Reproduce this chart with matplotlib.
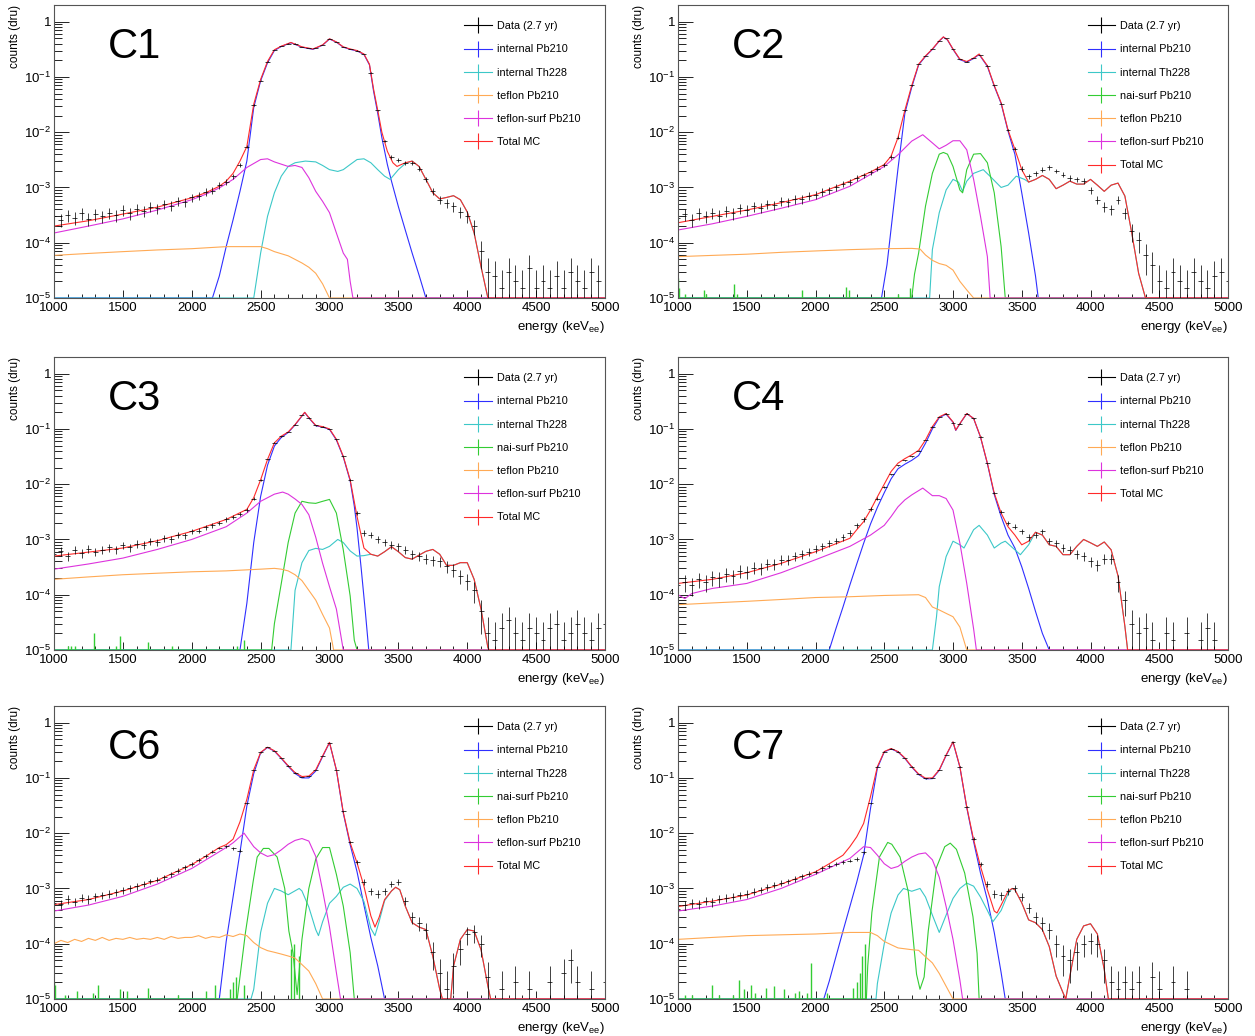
import numpy as np
import matplotlib
matplotlib.use("Agg")
import matplotlib.pyplot as plt
from matplotlib.lines import Line2D
from matplotlib.ticker import MultipleLocator, LogLocator, FuncFormatter, NullFormatter

plt.rcParams['font.family'] = ['Liberation Sans', 'DejaVu Sans']
plt.rcParams['mathtext.fontset'] = 'custom'
plt.rcParams['mathtext.rm'] = 'Liberation Sans'
plt.rcParams['mathtext.it'] = 'Liberation Sans:italic'

# ---- data (dru), data bins every 50 keV from 1000 keV ----
E0, DE = 1000, 50

c1_data = [3.0e-4, 2.6e-4, 3.2e-4, 2.8e-4, 3.4e-4, 2.7e-4, 3.3e-4, 3.0e-4, 3.5e-4, 3.2e-4,
           3.9e-4, 3.4e-4, 4.1e-4, 3.7e-4, 4.5e-4, 4.2e-4, 5.0e-4, 4.7e-4, 5.6e-4, 5.4e-4,
           6.6e-4, 7.0e-4, 8.4e-4, 8.8e-4, 1.1e-3, 1.25e-3, 1.6e-3, 2.6e-3, 5.5e-3, 3.1e-2,
           8.6e-2, 0.19, 0.31, 0.36, 0.40, 0.40, 0.35, 0.33, 0.33, 0.38,
           0.48, 0.43, 0.35, 0.32, 0.30, 0.26, 0.12, 0.025, 7.0e-3, 3.6e-3,
           3.1e-3, 2.8e-3, 2.8e-3, 2.2e-3, 1.4e-3, 8.5e-4, 6.0e-4, 5.2e-4, 4.6e-4, 3.6e-4,
           3.0e-4, 2.0e-4, 7.0e-5, 3.0e-5, 2.5e-5, 1.5e-5, 3.0e-5, 2.0e-5, 1.5e-5, 3.5e-5,
           1.5e-5, 2.0e-5, 1.5e-5, 2.5e-5, 1.5e-5, 3.0e-5, 2.0e-5, 1.5e-5, 3.0e-5, 2.0e-5,
           0]
c2_data = [2.8e-4, 3.3e-4, 2.6e-4, 3.4e-4, 3.0e-4, 3.5e-4, 3.1e-4, 3.8e-4, 3.4e-4, 4.2e-4,
           3.9e-4, 4.6e-4, 4.3e-4, 5.0e-4, 4.8e-4, 5.6e-4, 5.4e-4, 6.2e-4, 6.2e-4, 7.0e-4,
           7.4e-4, 8.4e-4, 9.0e-4, 1.02e-3, 1.15e-3, 1.25e-3, 1.5e-3, 1.65e-3, 1.9e-3, 2.2e-3,
           2.6e-3, 3.6e-3, 8.0e-3, 2.5e-2, 7.0e-2, 0.17, 0.24, 0.32, 0.45, 0.50,
           0.32, 0.21, 0.19, 0.22, 0.25, 0.16, 0.07, 0.033, 0.011, 5.0e-3,
           2.2e-3, 1.6e-3, 1.8e-3, 2.1e-3, 2.3e-3, 2.0e-3, 1.7e-3, 1.5e-3, 1.4e-3, 1.3e-3,
           9.0e-4, 6.0e-4, 4.5e-4, 4.0e-4, 6.0e-4, 3.5e-4, 1.6e-4, 1.1e-4, 6.0e-5, 4.0e-5,
           2.0e-5, 1.5e-5, 3.0e-5, 2.0e-5, 1.5e-5, 3.0e-5, 2.0e-5, 1.5e-5, 2.5e-5, 3.0e-5,
           2.0e-5]
c3_data = [5.5e-4, 6.2e-4, 5.0e-4, 6.5e-4, 5.6e-4, 6.8e-4, 6.0e-4, 6.5e-4, 7.2e-4, 6.6e-4,
           7.8e-4, 7.2e-4, 8.4e-4, 8.0e-4, 9.2e-4, 9.0e-4, 1.05e-3, 1.0e-3, 1.2e-3, 1.18e-3,
           1.4e-3, 1.45e-3, 1.65e-3, 1.8e-3, 2.0e-3, 2.3e-3, 2.6e-3, 2.9e-3, 3.4e-3, 5.5e-3,
           1.2e-2, 2.8e-2, 5.6e-2, 7.4e-2, 8.8e-2, 0.12, 0.18, 0.16, 0.116, 0.11,
           0.10, 0.065, 0.032, 0.012, 3.0e-3, 1.3e-3, 1.2e-3, 1.0e-3, 9.0e-4, 8.0e-4,
           7.5e-4, 6.5e-4, 5.5e-4, 5.0e-4, 4.5e-4, 4.2e-4, 4.0e-4, 3.3e-4, 2.8e-4, 2.2e-4,
           1.8e-4, 1.2e-4, 5.0e-5, 2.0e-5, 1.5e-5, 2.5e-5, 3.5e-5, 2.0e-5, 1.5e-5, 2.5e-5,
           2.0e-5, 1.5e-5, 2.5e-5, 3.0e-5, 1.5e-5, 2.0e-5, 3.0e-5, 2.0e-5, 1.5e-5, 2.5e-5,
           3.0e-5]
c4_data = [1.5e-4, 1.7e-4, 1.5e-4, 1.9e-4, 1.7e-4, 2.1e-4, 2.0e-4, 2.4e-4, 2.2e-4, 2.7e-4,
           2.6e-4, 3.1e-4, 3.0e-4, 3.6e-4, 3.6e-4, 4.3e-4, 4.3e-4, 5.0e-4, 5.4e-4, 6.0e-4,
           6.8e-4, 7.5e-4, 8.6e-4, 9.5e-4, 1.1e-3, 1.3e-3, 1.8e-3, 2.3e-3, 3.6e-3, 5.5e-3,
           9.0e-3, 1.5e-2, 2.2e-2, 2.7e-2, 3.2e-2, 4.0e-2, 6.3e-2, 0.11, 0.165, 0.19,
           0.13, 0.125, 0.19, 0.155, 0.072, 0.024, 7.0e-3, 3.2e-3, 2.0e-3, 1.7e-3,
           1.4e-3, 1.1e-3, 1.2e-3, 1.4e-3, 9.5e-4, 8.5e-4, 7.0e-4, 6.5e-4, 5.5e-4, 5.0e-4,
           4.0e-4, 3.5e-4, 4.5e-4, 4.5e-4, 1.7e-4, 8.0e-5, 3.0e-5, 2.0e-5, 2.5e-5, 1.5e-5,
           0, 2.0e-5, 1.5e-5, 0, 2.0e-5, 0, 1.5e-5, 2.5e-5, 1.5e-5, 0,
           0]
c6_data = [5.5e-4, 5.2e-4, 6.4e-4, 5.8e-4, 6.8e-4, 6.4e-4, 7.2e-4, 7.6e-4, 8.0e-4, 8.6e-4,
           9.4e-4, 1.0e-3, 1.1e-3, 1.2e-3, 1.35e-3, 1.45e-3, 1.6e-3, 1.8e-3, 2.1e-3, 2.4e-3,
           2.8e-3, 3.3e-3, 3.9e-3, 4.6e-3, 5.4e-3, 5.8e-3, 5.3e-3, 4.8e-3, 3.5e-2, 0.14,
           0.29, 0.36, 0.31, 0.23, 0.166, 0.125, 0.104, 0.108, 0.14, 0.25,
           0.43, 0.14, 0.025, 7.0e-3, 3.0e-3, 1.3e-3, 9.0e-4, 8.0e-4, 9.0e-4, 1.2e-3,
           1.3e-3, 6.0e-4, 3.0e-4, 2.4e-4, 1.8e-4, 7.0e-5, 3.0e-5, 1.5e-5, 4.0e-5, 8.0e-5,
           1.5e-4, 1.6e-4, 1.0e-4, 2.5e-5, 0, 1.5e-5, 0, 2.0e-5, 0, 1.5e-5,
           0, 0, 2.0e-5, 0, 3.0e-5, 5.0e-5, 2.0e-5, 0, 1.5e-5, 0,
           2.0e-5]
c7_data = [4.2e-4, 5.0e-4, 5.5e-4, 5.2e-4, 6.0e-4, 5.6e-4, 6.5e-4, 6.8e-4, 7.0e-4, 7.6e-4,
           8.0e-4, 8.8e-4, 9.5e-4, 1.05e-3, 1.15e-3, 1.25e-3, 1.35e-3, 1.5e-3, 1.65e-3, 1.85e-3,
           2.0e-3, 2.3e-3, 2.6e-3, 2.8e-3, 3.0e-3, 3.2e-3, 3.4e-3, 4.5e-3, 3.5e-2, 0.16,
           0.30, 0.34, 0.30, 0.23, 0.16, 0.118, 0.098, 0.10, 0.14, 0.26,
           0.44, 0.16, 0.03, 8.0e-3, 2.8e-3, 1.2e-3, 8.0e-4, 7.5e-4, 9.0e-4, 1.0e-3,
           7.0e-4, 4.5e-4, 3.0e-4, 2.4e-4, 1.8e-4, 1.0e-4, 6.0e-5, 5.0e-5, 7.0e-5, 1.0e-4,
           1.1e-4, 1.0e-4, 5.0e-5, 2.0e-5, 1.5e-5, 2.0e-5, 1.5e-5, 2.0e-5, 0, 2.5e-5,
           1.5e-5, 0, 2.0e-5, 0, 1.5e-5, 0, 0, 0, 0, 0,
           0]

# ---- MC curves: (energy keV, dru) ----
c1_red = [(1000, 2.0e-4), (1250, 2.5e-4), (1500, 3.3e-4), (1750, 4.4e-4), (2000, 6.5e-4), (2100, 8.0e-4),
          (2200, 1.05e-3), (2250, 1.3e-3), (2300, 1.8e-3), (2350, 3.0e-3), (2400, 5.5e-3), (2450, 3.2e-2),
          (2500, 9.0e-2), (2550, 0.19), (2600, 0.31), (2650, 0.36), (2720, 0.42), (2800, 0.35), (2880, 0.32),
          (2950, 0.38), (3000, 0.49), (3050, 0.43), (3100, 0.35), (3150, 0.32), (3200, 0.30), (3250, 0.26),
          (3290, 0.17), (3320, 0.06), (3350, 0.025), (3380, 1.0e-2), (3420, 4.5e-3), (3460, 2.8e-3),
          (3490, 2.4e-3), (3550, 2.8e-3), (3600, 3.0e-3), (3650, 2.4e-3), (3700, 1.4e-3), (3750, 8.0e-4),
          (3800, 6.2e-4), (3850, 6.6e-4), (3900, 7.1e-4), (3950, 6.0e-4), (4000, 3.6e-4), (4050, 1.5e-4),
          (4100, 3.7e-5), (4150, 1.0e-5)]
c1_blue = [(2150, 1.0e-5), (2200, 2.5e-5), (2250, 8.5e-5), (2300, 2.6e-4), (2350, 8.5e-4), (2400, 3.0e-3),
           (2450, 2.8e-2), (2500, 8.5e-2), (2550, 0.18), (2600, 0.30), (2650, 0.355), (2720, 0.415),
           (2800, 0.345), (2880, 0.315), (2950, 0.375), (3000, 0.485), (3050, 0.425), (3100, 0.345),
           (3150, 0.315), (3200, 0.295), (3250, 0.255), (3290, 0.165), (3320, 0.055), (3350, 0.022),
           (3380, 8.0e-3), (3420, 2.6e-3), (3450, 1.3e-3), (3500, 4.5e-4), (3550, 1.7e-4), (3600, 6.5e-5),
           (3650, 2.6e-5), (3700, 1.0e-5)]
c1_mag = [(1000, 1.5e-4), (1250, 2.0e-4), (1500, 2.7e-4), (1750, 3.9e-4), (2000, 6.0e-4), (2100, 7.5e-4),
          (2200, 9.8e-4), (2300, 1.4e-3), (2400, 2.3e-3), (2500, 3.2e-3), (2550, 3.3e-3), (2600, 2.9e-3),
          (2700, 2.4e-3), (2750, 2.5e-3), (2800, 2.3e-3), (2850, 1.5e-3), (2900, 8.5e-4), (2950, 5.6e-4),
          (3000, 3.5e-4), (3050, 1.5e-4), (3100, 6.5e-5), (3130, 5.0e-5), (3150, 2.0e-5), (3170, 1.0e-5)]
c1_cyan = [(2450, 1.0e-5), (2500, 6.5e-5), (2550, 3.0e-4), (2600, 8.0e-4), (2650, 1.6e-3), (2700, 2.4e-3),
           (2750, 2.8e-3), (2825, 3.0e-3), (2900, 2.9e-3), (2950, 2.5e-3), (3000, 2.1e-3), (3060, 1.95e-3),
           (3100, 2.1e-3), (3150, 2.6e-3), (3200, 3.2e-3), (3250, 3.3e-3), (3300, 2.8e-3), (3350, 2.1e-3),
           (3400, 1.6e-3), (3440, 1.4e-3), (3500, 2.1e-3), (3550, 2.7e-3), (3600, 3.0e-3), (3650, 2.4e-3),
           (3700, 1.4e-3), (3750, 8.0e-4), (3800, 6.2e-4), (3850, 6.6e-4), (3900, 7.1e-4), (3950, 6.0e-4),
           (4000, 3.6e-4), (4050, 1.5e-4), (4100, 3.7e-5), (4150, 1.0e-5)]
c1_orange = [(1000, 5.9e-5), (1250, 6.4e-5), (1500, 6.9e-5), (1750, 7.4e-5), (2000, 7.8e-5), (2250, 8.5e-5),
             (2500, 8.5e-5), (2550, 7.8e-5), (2600, 6.9e-5), (2700, 5.8e-5), (2800, 4.3e-5), (2850, 3.6e-5),
             (2900, 2.8e-5), (2950, 1.8e-5), (3000, 1.0e-5)]

c2_red = [(1000, 2.3e-4), (1250, 3.0e-4), (1500, 3.9e-4), (1750, 5.3e-4), (2000, 7.4e-4), (2250, 1.3e-3),
          (2400, 1.9e-3), (2500, 2.6e-3), (2550, 3.7e-3), (2600, 8.0e-3), (2650, 2.5e-2), (2700, 7.0e-2),
          (2750, 0.17), (2800, 0.24), (2850, 0.32), (2900, 0.45), (2930, 0.53), (2960, 0.47), (3000, 0.32),
          (3050, 0.21), (3100, 0.19), (3150, 0.22), (3190, 0.26), (3250, 0.16), (3300, 0.07), (3350, 0.034),
          (3400, 0.011), (3450, 4.9e-3), (3500, 2.1e-3), (3550, 1.25e-3), (3600, 1.4e-3), (3650, 1.65e-3),
          (3700, 1.4e-3), (3750, 9.5e-4), (3800, 1.1e-3), (3850, 1.3e-3), (3900, 1.15e-3), (3950, 1.15e-3),
          (4000, 1.4e-3), (4050, 1.1e-3), (4100, 8.5e-4), (4150, 1.1e-3), (4200, 1.2e-3), (4250, 7.0e-4),
          (4300, 1.5e-4), (4350, 2.8e-5), (4400, 1.0e-5)]
c2_blue = [(2480, 1.0e-5), (2520, 4.0e-5), (2560, 3.0e-4), (2600, 2.2e-3), (2650, 2.2e-2), (2700, 6.5e-2),
           (2750, 0.165), (2800, 0.235), (2850, 0.315), (2900, 0.445), (2930, 0.525), (2960, 0.465),
           (3000, 0.315), (3050, 0.205), (3100, 0.185), (3150, 0.215), (3190, 0.255), (3250, 0.155),
           (3300, 0.068), (3350, 0.033), (3400, 0.0105), (3450, 4.0e-3), (3500, 8.0e-4), (3550, 1.5e-4),
           (3600, 2.5e-5), (3620, 1.0e-5)]
c2_mag = [(1000, 1.7e-4), (1250, 2.2e-4), (1500, 3.0e-4), (1750, 4.2e-4), (2000, 6.0e-4), (2250, 1.05e-3),
          (2500, 2.4e-3), (2600, 3.9e-3), (2700, 6.9e-3), (2780, 9.0e-3), (2850, 6.4e-3), (2900, 5.0e-3),
          (2950, 5.8e-3), (3000, 7.0e-3), (3050, 7.0e-3), (3100, 4.8e-3), (3150, 1.4e-3), (3200, 3.0e-4),
          (3250, 5.6e-5), (3270, 1.0e-5)]
c2_green = [(2700, 1.0e-5), (2720, 2.7e-5), (2750, 6.5e-5), (2800, 4.6e-4), (2850, 1.8e-3), (2900, 4.0e-3),
            (2930, 4.3e-3), (2960, 4.0e-3), (3000, 2.4e-3), (3050, 9.0e-4), (3070, 8.0e-4), (3100, 2.1e-3),
            (3150, 4.0e-3), (3200, 4.1e-3), (3250, 2.8e-3), (3300, 8.0e-4), (3350, 8.5e-5), (3380, 1.0e-5)]
c2_spike_e = [1000, 1010, 1050, 1190, 1200, 1410, 1430, 1900, 2220, 2240, 2600, 2690]
c2_spike_h = [2.3e-5, 1.5e-5, 1.2e-5, 1.4e-5, 1.2e-5, 1.8e-5, 1.2e-5, 1.4e-5, 1.6e-5, 1.4e-5, 1.2e-5, 1.5e-5]
c2_cyan = [(2830, 1.0e-5), (2850, 7.5e-5), (2900, 3.5e-4), (2950, 9.0e-4), (3000, 1.4e-3), (3040, 1.25e-3),
           (3070, 8.5e-4), (3100, 1.3e-3), (3150, 1.8e-3), (3220, 2.1e-3), (3280, 1.5e-3), (3350, 1.0e-3),
           (3400, 1.1e-3), (3460, 1.6e-3), (3520, 1.4e-3), (3550, 1.25e-3), (3600, 1.4e-3), (3650, 1.65e-3),
           (3700, 1.4e-3), (3750, 9.5e-4), (3800, 1.1e-3), (3850, 1.3e-3), (3900, 1.15e-3), (3950, 1.15e-3),
           (4000, 1.4e-3), (4050, 1.1e-3), (4100, 8.5e-4), (4150, 1.1e-3), (4200, 1.2e-3), (4250, 7.0e-4),
           (4300, 1.5e-4), (4350, 2.8e-5), (4400, 1.0e-5)]
c2_orange = [(1000, 5.6e-5), (1250, 5.9e-5), (1500, 6.2e-5), (1750, 6.7e-5), (2000, 7.1e-5), (2250, 7.5e-5),
             (2500, 7.8e-5), (2700, 7.9e-5), (2760, 7.7e-5), (2800, 6.0e-5), (2850, 4.8e-5), (2900, 4.2e-5),
             (2950, 3.9e-5), (3000, 3.2e-5), (3050, 2.0e-5), (3100, 1.4e-5), (3150, 1.0e-5)]

c3_red = [(1000, 5.0e-4), (1250, 5.9e-4), (1500, 7.0e-4), (1750, 9.5e-4), (2000, 1.4e-3), (2250, 2.3e-3),
          (2400, 3.5e-3), (2450, 5.7e-3), (2500, 1.2e-2), (2550, 2.8e-2), (2600, 5.6e-2), (2650, 7.4e-2),
          (2700, 8.8e-2), (2750, 0.12), (2820, 0.20), (2850, 0.16), (2900, 0.116), (2950, 0.11), (3000, 0.10),
          (3050, 0.065), (3100, 0.032), (3150, 0.012), (3200, 2.6e-3), (3250, 7.0e-4), (3300, 5.4e-4),
          (3350, 5.0e-4), (3400, 6.0e-4), (3450, 7.4e-4), (3500, 6.0e-4), (3550, 4.7e-4), (3600, 4.4e-4),
          (3650, 5.2e-4), (3700, 6.1e-4), (3750, 6.6e-4), (3800, 5.4e-4), (3850, 3.4e-4), (3900, 3.4e-4),
          (3950, 3.8e-4), (4000, 3.8e-4), (4050, 1.9e-4), (4100, 5.5e-5), (4150, 1.1e-5), (4160, 1.0e-5)]
c3_blue = [(2350, 1.0e-5), (2400, 7.0e-5), (2450, 8.8e-4), (2500, 6.0e-3), (2550, 2.2e-2), (2600, 4.9e-2),
           (2650, 7.0e-2), (2700, 8.6e-2), (2750, 0.118), (2820, 0.198), (2850, 0.158), (2900, 0.114),
           (2950, 0.108), (3000, 0.098), (3050, 0.063), (3100, 0.031), (3150, 0.0115), (3180, 4.0e-3),
           (3200, 1.6e-3), (3230, 3.0e-4), (3260, 5.0e-5), (3285, 1.0e-5)]
c3_mag = [(1000, 2.9e-4), (1250, 3.6e-4), (1500, 4.6e-4), (1750, 6.6e-4), (2000, 1.0e-3), (2250, 1.7e-3),
          (2400, 3.0e-3), (2500, 4.9e-3), (2600, 6.6e-3), (2660, 7.2e-3), (2700, 6.6e-3), (2750, 5.4e-3),
          (2800, 4.3e-3), (2850, 2.8e-3), (2900, 1.1e-3), (2950, 3.7e-4), (3000, 1.4e-4), (3050, 5.5e-5),
          (3100, 1.0e-5)]
c3_green = [(2580, 1.0e-5), (2600, 3.0e-5), (2650, 1.6e-4), (2700, 8.8e-4), (2750, 3.0e-3), (2800, 4.9e-3),
            (2850, 4.6e-3), (2900, 4.5e-3), (2950, 4.9e-3), (3000, 5.3e-3), (3050, 3.0e-3), (3100, 6.5e-4),
            (3150, 9.5e-5), (3180, 1.5e-5), (3200, 1.0e-5)]
c3_spike_e = [1100, 1120, 1150, 1290, 1450, 1480, 1680, 1860, 2330, 2380]
c3_spike_h = [1.2e-5, 1.2e-5, 1.2e-5, 2.0e-5, 1.2e-5, 1.8e-5, 1.4e-5, 1.2e-5, 1.2e-5, 1.5e-5]
c3_cyan = [(2720, 1.0e-5), (2750, 1.2e-4), (2800, 3.8e-4), (2850, 6.3e-4), (2900, 6.9e-4), (2950, 6.6e-4),
           (3000, 7.5e-4), (3060, 1.0e-3), (3100, 8.8e-4), (3150, 6.2e-4), (3200, 5.0e-4), (3250, 5.1e-4),
           (3300, 5.4e-4), (3350, 5.0e-4), (3400, 6.0e-4), (3450, 7.4e-4), (3500, 6.0e-4), (3550, 4.7e-4),
           (3600, 4.4e-4), (3650, 5.2e-4), (3700, 6.1e-4), (3750, 6.6e-4), (3800, 5.4e-4), (3850, 3.4e-4),
           (3900, 3.4e-4), (3950, 3.8e-4), (4000, 3.8e-4), (4050, 1.9e-4), (4100, 5.5e-5), (4150, 1.1e-5),
           (4160, 1.0e-5)]
c3_orange = [(1000, 1.9e-4), (1250, 2.1e-4), (1500, 2.3e-4), (1750, 2.45e-4), (2000, 2.6e-4), (2250, 2.7e-4),
             (2500, 2.9e-4), (2600, 3.0e-4), (2650, 2.9e-4), (2700, 2.7e-4), (2750, 2.3e-4), (2800, 1.8e-4),
             (2850, 1.2e-4), (2900, 8.0e-5), (2950, 4.4e-5), (3000, 2.5e-5), (3030, 1.0e-5)]

c4_red = [(1000, 1.6e-4), (1250, 1.9e-4), (1500, 2.5e-4), (1750, 3.7e-4), (2000, 6.0e-4), (2250, 1.05e-3),
          (2300, 1.5e-3), (2350, 2.1e-3), (2400, 3.4e-3), (2450, 5.9e-3), (2500, 1.0e-2), (2550, 1.7e-2),
          (2600, 2.4e-2), (2650, 2.9e-2), (2700, 3.4e-2), (2750, 4.1e-2), (2800, 6.3e-2), (2850, 0.11),
          (2900, 0.165), (2950, 0.19), (3000, 0.134), (3020, 0.095), (3050, 0.125), (3100, 0.19),
          (3150, 0.155), (3200, 0.072), (3250, 0.024), (3300, 6.9e-3), (3350, 3.0e-3), (3400, 1.7e-3),
          (3450, 1.2e-3), (3500, 8.0e-4), (3550, 9.3e-4), (3600, 1.35e-3), (3650, 1.2e-3), (3700, 8.0e-4),
          (3750, 7.5e-4), (3800, 5.3e-4), (3850, 5.3e-4), (3900, 7.5e-4), (3950, 1.0e-3), (4000, 8.7e-4),
          (4050, 7.5e-4), (4100, 9.0e-4), (4150, 6.5e-4), (4200, 2.2e-4), (4250, 2.7e-5), (4270, 1.0e-5)]
c4_blue = [(2100, 1.0e-5), (2150, 2.5e-5), (2200, 6.0e-5), (2250, 1.5e-4), (2300, 3.6e-4), (2350, 8.5e-4),
           (2400, 1.9e-3), (2450, 3.8e-3), (2500, 7.0e-3), (2550, 1.25e-2), (2600, 1.9e-2), (2650, 2.3e-2),
           (2700, 2.7e-2), (2750, 3.3e-2), (2800, 5.5e-2), (2850, 0.10), (2900, 0.16), (2950, 0.185),
           (3000, 0.132), (3020, 0.094), (3050, 0.124), (3100, 0.189), (3150, 0.154), (3200, 0.071),
           (3250, 0.0235), (3300, 6.5e-3), (3350, 2.6e-3), (3400, 1.2e-3), (3450, 7.0e-4), (3500, 3.2e-4),
           (3550, 1.3e-4), (3600, 5.0e-5), (3650, 2.0e-5), (3700, 1.0e-5)]
c4_mag = [(1000, 1.0e-4), (1050, 8.5e-5), (1100, 1.05e-4), (1250, 1.3e-4), (1500, 1.6e-4), (1750, 2.5e-4),
          (2000, 4.3e-4), (2250, 7.5e-4), (2400, 1.2e-3), (2500, 1.8e-3), (2550, 2.6e-3), (2600, 3.9e-3),
          (2650, 5.2e-3), (2700, 6.4e-3), (2780, 8.5e-3), (2850, 6.2e-3), (2900, 6.2e-3), (2950, 5.5e-3),
          (3000, 3.4e-3), (3050, 8.6e-4), (3100, 1.6e-4), (3150, 2.4e-5), (3170, 1.0e-5)]
c4_cyan = [(2850, 1.0e-5), (2880, 4.0e-5), (2900, 1.4e-4), (2950, 4.9e-4), (3000, 9.3e-4), (3050, 8.0e-4),
           (3080, 7.0e-4), (3100, 8.7e-4), (3150, 1.5e-3), (3190, 1.8e-3), (3250, 1.2e-3), (3300, 7.0e-4),
           (3350, 8.6e-4), (3380, 9.3e-4), (3450, 6.5e-4), (3490, 5.3e-4), (3550, 8.0e-4), (3600, 1.35e-3),
           (3650, 1.2e-3), (3700, 8.0e-4), (3750, 7.5e-4), (3800, 5.3e-4), (3850, 5.3e-4), (3900, 7.5e-4),
           (3950, 1.0e-3), (4000, 8.7e-4), (4050, 7.5e-4), (4100, 9.0e-4), (4150, 6.5e-4), (4200, 2.2e-4),
           (4250, 2.7e-5), (4270, 1.0e-5)]
c4_orange = [(1000, 6.6e-5), (1250, 7.1e-5), (1500, 7.6e-5), (1750, 8.2e-5), (2000, 8.9e-5), (2250, 9.2e-5),
             (2500, 9.7e-5), (2750, 1.0e-4), (2800, 8.9e-5), (2850, 6.0e-5), (2900, 5.3e-5), (2950, 4.6e-5),
             (3000, 4.0e-5), (3050, 2.6e-5), (3100, 1.0e-5)]

c6_red = [(1000, 5.1e-4), (1250, 6.3e-4), (1500, 9.0e-4), (1750, 1.4e-3), (2000, 2.7e-3), (2100, 3.8e-3),
          (2200, 5.5e-3), (2250, 6.2e-3), (2300, 7.8e-3), (2350, 1.6e-2), (2400, 4.1e-2), (2450, 0.14),
          (2500, 0.29), (2550, 0.36), (2600, 0.31), (2650, 0.23), (2700, 0.166), (2750, 0.125), (2800, 0.106),
          (2850, 0.108), (2900, 0.14), (2950, 0.25), (3000, 0.44), (3050, 0.14), (3100, 0.024), (3150, 6.7e-3),
          (3200, 2.9e-3), (3250, 1.1e-3), (3300, 3.2e-4), (3330, 2.0e-4), (3360, 3.0e-4), (3400, 6.3e-4),
          (3450, 9.0e-4), (3480, 1.05e-3), (3510, 9.5e-4), (3550, 4.8e-4), (3600, 2.4e-4), (3650, 2.0e-4),
          (3700, 1.8e-4), (3750, 5.9e-5), (3800, 1.5e-5), (3820, 1.0e-5), (3880, 1.0e-5), (3900, 3.9e-5),
          (3950, 1.2e-4), (4000, 1.8e-4), (4050, 1.7e-4), (4100, 7.8e-5), (4150, 1.7e-5), (4170, 1.0e-5)]
c6_blue = [(2200, 1.0e-5), (2250, 1.1e-4), (2300, 7.0e-4), (2350, 4.5e-3), (2400, 3.1e-2), (2450, 0.12),
           (2500, 0.285), (2550, 0.355), (2600, 0.305), (2650, 0.225), (2700, 0.162), (2750, 0.12),
           (2800, 0.10), (2850, 0.10), (2900, 0.133), (2950, 0.243), (3000, 0.435), (3050, 0.138),
           (3100, 0.023), (3150, 6.2e-3), (3200, 2.0e-3), (3250, 5.0e-4), (3300, 1.3e-4), (3350, 4.0e-5),
           (3400, 1.0e-5)]
c6_mag = [(1000, 3.9e-4), (1250, 5.0e-4), (1500, 7.2e-4), (1750, 1.2e-3), (2000, 2.3e-3), (2250, 5.5e-3),
          (2300, 6.7e-3), (2380, 1.0e-2), (2450, 5.7e-3), (2500, 4.4e-3), (2550, 3.8e-3), (2600, 4.1e-3),
          (2650, 5.0e-3), (2700, 6.3e-3), (2750, 7.4e-3), (2800, 8.0e-3), (2850, 7.2e-3), (2900, 3.8e-3),
          (2950, 9.2e-4), (3000, 2.0e-4), (3050, 3.0e-5), (3080, 1.0e-5)]
c6_green = [(2330, 1.0e-5), (2390, 1.6e-4), (2445, 1.3e-3), (2475, 3.7e-3), (2520, 5.3e-3), (2560, 5.3e-3),
            (2620, 3.7e-3), (2675, 1.0e-3), (2705, 1.7e-4), (2735, 6.8e-5), (2765, 1.2e-5), (2800, 1.2e-4),
            (2850, 1.0e-3), (2900, 3.4e-3), (2950, 5.5e-3), (3000, 5.5e-3), (3050, 1.8e-3), (3100, 4.8e-4),
            (3150, 6.9e-5), (3180, 1.0e-5)]
c6_spike_e = [1000, 1010, 1080, 1170, 1280, 1320, 1480, 1530, 1680, 1900, 2100, 2170, 2280, 2300, 2320,
              2380, 2720, 2745, 2775]
c6_spike_h = [2.0e-5, 1.8e-5, 1.2e-5, 1.4e-5, 1.3e-5, 1.8e-5, 1.5e-5, 1.4e-5, 1.6e-5, 1.2e-5, 1.4e-5,
              1.8e-5, 1.5e-5, 2.0e-5, 2.5e-5, 1.8e-5, 8.0e-5, 1.0e-4, 6.0e-5]
c6_cyan = [(2430, 1.0e-5), (2450, 1.5e-5), (2500, 1.6e-4), (2550, 5.4e-4), (2600, 1.0e-3), (2650, 9.0e-4),
           (2700, 7.7e-4), (2780, 1.0e-3), (2800, 9.0e-4), (2850, 4.6e-4), (2900, 1.8e-4), (2920, 1.4e-4),
           (2950, 2.5e-4), (3000, 5.4e-4), (3050, 7.2e-4), (3100, 1.05e-3), (3150, 1.2e-3), (3200, 1.0e-3),
           (3250, 5.8e-4), (3300, 1.9e-4), (3330, 1.4e-4), (3360, 2.5e-4), (3400, 6.0e-4), (3450, 9.0e-4),
           (3480, 1.05e-3), (3510, 9.5e-4), (3550, 4.8e-4), (3600, 2.4e-4), (3650, 2.0e-4), (3700, 1.8e-4),
           (3750, 5.9e-5), (3800, 1.5e-5), (3820, 1.0e-5), (3880, 1.0e-5), (3900, 3.9e-5), (3950, 1.2e-4),
           (4000, 1.8e-4), (4050, 1.7e-4), (4100, 7.8e-5), (4150, 1.7e-5), (4170, 1.0e-5)]
c6_orange = [(1000, 1.0e-4), (1050, 1.15e-4), (1100, 1.05e-4), (1150, 1.2e-4), (1200, 1.1e-4), (1250, 1.25e-4),
             (1300, 1.15e-4), (1350, 1.3e-4), (1400, 1.15e-4), (1450, 1.25e-4), (1500, 1.2e-4), (1550, 1.3e-4),
             (1600, 1.2e-4), (1650, 1.25e-4), (1700, 1.2e-4), (1750, 1.3e-4), (1800, 1.2e-4), (1850, 1.35e-4),
             (1900, 1.25e-4), (1950, 1.3e-4), (2000, 1.3e-4), (2050, 1.4e-4), (2100, 1.25e-4), (2150, 1.35e-4),
             (2200, 1.3e-4), (2250, 1.45e-4), (2300, 1.35e-4), (2350, 1.5e-4), (2400, 1.4e-4), (2450, 1.05e-4),
             (2500, 8.5e-5), (2550, 7.5e-5), (2600, 7.0e-5), (2650, 6.5e-5), (2700, 6.0e-5), (2750, 5.5e-5),
             (2800, 4.2e-5), (2850, 3.2e-5), (2900, 1.9e-5), (2950, 1.0e-5)]

c7_red = [(1000, 4.7e-4), (1250, 5.9e-4), (1500, 7.6e-4), (1750, 1.2e-3), (2000, 2.0e-3), (2100, 2.8e-3),
          (2200, 4.0e-3), (2250, 5.7e-3), (2300, 8.6e-3), (2350, 1.5e-2), (2400, 4.6e-2), (2450, 0.16),
          (2500, 0.30), (2550, 0.34), (2600, 0.30), (2650, 0.23), (2700, 0.16), (2750, 0.118), (2800, 0.099),
          (2850, 0.10), (2900, 0.14), (2950, 0.26), (3000, 0.45), (3050, 0.16), (3100, 0.03), (3150, 7.6e-3),
          (3200, 2.5e-3), (3250, 9.5e-4), (3300, 3.9e-4), (3320, 3.6e-4), (3350, 5.0e-4), (3400, 8.9e-4),
          (3430, 1.0e-3), (3450, 9.5e-4), (3500, 5.5e-4), (3550, 2.7e-4), (3600, 2.4e-4), (3650, 1.8e-4),
          (3700, 8.9e-5), (3750, 2.6e-5), (3800, 1.3e-5), (3820, 1.0e-5), (3850, 2.6e-5), (3900, 1.2e-4),
          (3950, 2.1e-4), (4000, 2.3e-4), (4050, 1.5e-4), (4100, 3.4e-5), (4130, 1.0e-5)]
c7_blue = [(2060, 1.0e-5), (2100, 2.1e-5), (2150, 6.0e-5), (2200, 1.7e-4), (2250, 4.7e-4), (2300, 1.3e-3),
           (2350, 4.0e-3), (2400, 2.8e-2), (2450, 0.15), (2500, 0.295), (2550, 0.335), (2600, 0.295),
           (2650, 0.225), (2700, 0.157), (2750, 0.115), (2800, 0.096), (2850, 0.097), (2900, 0.137),
           (2950, 0.255), (3000, 0.445), (3050, 0.157), (3100, 0.029), (3150, 7.0e-3), (3200, 1.9e-3),
           (3250, 6.2e-4), (3300, 1.6e-4), (3350, 3.0e-5), (3380, 1.0e-5)]
c7_mag = [(1000, 3.9e-4), (1250, 4.8e-4), (1500, 6.3e-4), (1750, 1.0e-3), (2000, 1.8e-3), (2250, 3.5e-3),
          (2350, 5.7e-3), (2400, 5.5e-3), (2450, 4.0e-3), (2500, 2.8e-3), (2550, 2.3e-3), (2600, 2.5e-3),
          (2650, 3.1e-3), (2700, 3.7e-3), (2750, 4.2e-3), (2800, 4.4e-3), (2850, 3.3e-3), (2900, 1.6e-3),
          (2950, 4.7e-4), (3000, 1.2e-4), (3050, 2.2e-5), (3070, 1.0e-5)]
c7_green = [(2370, 1.0e-5), (2380, 4.0e-5), (2410, 3.7e-4), (2465, 3.7e-3), (2525, 6.8e-3), (2555, 6.3e-3),
            (2615, 3.7e-3), (2675, 8.7e-4), (2705, 1.7e-4), (2735, 2.8e-5), (2760, 1.5e-5), (2790, 2.5e-5),
            (2820, 1.7e-4), (2880, 2.4e-3), (2940, 5.7e-3), (2980, 6.6e-3), (3025, 5.1e-3), (3085, 1.9e-3),
            (3145, 3.1e-4), (3175, 6.7e-5), (3190, 1.0e-5)]
c7_spike_e = [1050, 1100, 1250, 1300, 1400, 1440, 1480, 1530, 1560, 1640, 1700, 1770, 1850, 1880, 1940,
              1970, 2080, 2270, 2300, 2320, 2340, 2360]
c7_spike_h = [1.2e-5, 1.2e-5, 1.8e-5, 1.2e-5, 1.2e-5, 2.2e-5, 1.5e-5, 1.8e-5, 1.3e-5, 1.6e-5, 1.7e-5,
              1.5e-5, 1.3e-5, 1.4e-5, 1.3e-5, 4.5e-5, 1.3e-5, 1.6e-5, 2.0e-5, 3.0e-5, 6.0e-5, 1.0e-4]
c7_cyan = [(2440, 1.0e-5), (2450, 1.9e-5), (2500, 1.0e-4), (2550, 3.6e-4), (2600, 7.6e-4), (2640, 1.0e-3),
           (2700, 8.9e-4), (2760, 1.0e-3), (2800, 7.0e-4), (2850, 3.3e-4), (2900, 1.6e-4), (2950, 3.3e-4),
           (3000, 6.6e-4), (3050, 1.0e-3), (3100, 1.25e-3), (3150, 1.1e-3), (3200, 7.0e-4), (3250, 4.0e-4),
           (3290, 2.5e-4), (3350, 4.0e-4), (3400, 8.0e-4), (3430, 1.0e-3), (3450, 9.5e-4), (3500, 5.5e-4),
           (3550, 2.7e-4), (3600, 2.4e-4), (3650, 1.8e-4), (3700, 8.9e-5), (3750, 2.6e-5), (3800, 1.3e-5),
           (3820, 1.0e-5), (3850, 2.6e-5), (3900, 1.2e-4), (3950, 2.1e-4), (4000, 2.3e-4), (4050, 1.5e-4),
           (4100, 3.4e-5), (4130, 1.0e-5)]
c7_orange = [(1000, 1.2e-4), (1250, 1.3e-4), (1500, 1.4e-4), (1750, 1.45e-4), (2000, 1.5e-4), (2250, 1.6e-4),
             (2400, 1.6e-4), (2450, 1.4e-4), (2500, 1.1e-4), (2550, 9.6e-5), (2600, 8.4e-5), (2700, 7.8e-5),
             (2750, 7.6e-5), (2800, 5.8e-5), (2850, 4.5e-5), (2900, 2.9e-5), (2950, 1.7e-5), (3000, 1.0e-5)]

panels = [
    dict(name='C1', data=c1_data, red=c1_red, blue=c1_blue, cyan=c1_cyan, orange=c1_orange, mag=c1_mag),
    dict(name='C2', data=c2_data, red=c2_red, blue=c2_blue, cyan=c2_cyan, orange=c2_orange, mag=c2_mag,
         green=c2_green, spikes=(c2_spike_e, c2_spike_h)),
    dict(name='C3', data=c3_data, red=c3_red, blue=c3_blue, cyan=c3_cyan, orange=c3_orange, mag=c3_mag,
         green=c3_green, spikes=(c3_spike_e, c3_spike_h)),
    dict(name='C4', data=c4_data, red=c4_red, blue=c4_blue, cyan=c4_cyan, orange=c4_orange, mag=c4_mag),
    dict(name='C6', data=c6_data, red=c6_red, blue=c6_blue, cyan=c6_cyan, orange=c6_orange, mag=c6_mag,
         green=c6_green, spikes=(c6_spike_e, c6_spike_h)),
    dict(name='C7', data=c7_data, red=c7_red, blue=c7_blue, cyan=c7_cyan, orange=c7_orange, mag=c7_mag,
         green=c7_green, spikes=(c7_spike_e, c7_spike_h)),
]

col = dict(data='black', blue='#2f2fff', cyan='#3cc8c8', green='#33cc33',
           orange='#ffaa55', mag='#dd33dd', red='#ff2a2a')
label = dict(data='Data (2.7 yr)', blue='internal Pb210', cyan='internal Th228',
             green='nai-surf Pb210', orange='teflon Pb210', mag='teflon-surf Pb210', red='Total MC')

YMIN, YMAX = 1e-5, 2.0
XMIN, XMAX = 1000, 5000


def draw_mc(ax, knots, color):
    e = [k[0] for k in knots]
    v = [k[1] for k in knots]
    if e[0] > XMIN:
        e = [XMIN] + e
        v = [0] + v
    if e[-1] < XMAX:
        e = e + [XMAX]
        v = v + [0]
    ax.plot(e, np.clip(v, YMIN, None), color=color, lw=0.8)


def draw_data(ax, vals):
    v = np.array(vals, float)
    e = E0 + DE * np.arange(len(v))
    m = v > 0
    e, v = e[m], v[m]
    err = np.sqrt(v * 1.9e-5)
    lo = np.minimum(err, v - 1e-7)
    ax.errorbar(e, v, yerr=[lo, err], xerr=18, fmt='none', ecolor='black',
                elinewidth=0.7, alpha=0.75)


def yfmt(y, pos):
    p = int(round(np.log10(y)))
    return '1' if p == 0 else r'$10^{%d}$' % p


fig = plt.figure(figsize=(12.55, 10.36), dpi=100)
W, H = 1255.0, 1036.0
lefts = [54, 678]
widths = [551, 550]
tops = [5, 357, 706]
ah = 293

for i, p in enumerate(panels):
    r, c = divmod(i, 2)
    ax = fig.add_axes([lefts[c] / W, 1 - (tops[r] + ah) / H, widths[c] / W, ah / H])

    keys = ['blue', 'cyan', 'green', 'orange', 'mag', 'red']
    for k in keys:
        if k in p:
            draw_mc(ax, p[k], col[k])
            if k == 'green':
                se, sh = p['spikes']
                ax.vlines(se, YMIN, sh, color=col['green'], lw=1.0)
    draw_data(ax, p['data'])

    ax.set_xlim(XMIN, XMAX)
    ax.set_yscale('log')
    ax.set_ylim(YMIN, YMAX)
    ax.xaxis.set_major_locator(MultipleLocator(500))
    ax.xaxis.set_minor_locator(MultipleLocator(100))
    ax.yaxis.set_major_locator(LogLocator(base=10, numticks=10))
    ax.yaxis.set_minor_locator(LogLocator(base=10, subs=np.arange(2, 10), numticks=20))
    ax.yaxis.set_major_formatter(FuncFormatter(yfmt))
    ax.yaxis.set_minor_formatter(NullFormatter())
    ax.tick_params(which='both', direction='in', top=False, right=False, labelsize=9.5, width=0.6)
    ax.tick_params(axis='y', which='major', length=10.5, pad=2)
    ax.tick_params(axis='y', which='minor', length=5.5)
    ax.tick_params(axis='x', which='major', length=5.5, pad=3)
    ax.tick_params(axis='x', which='minor', length=3)
    for s in ax.spines.values():
        s.set_color('#555555')
        s.set_linewidth(0.8)

    ax.set_xlabel(r'energy (keV$_{\mathrm{ee}}$)', fontsize=9.5, loc='right')
    ax.xaxis.set_label_coords(1.0, -0.072)
    ax.set_ylabel('counts (dru)', fontsize=8.5, loc='top')
    ax.yaxis.set_label_coords(-0.06, 1.0)

    ax.text(0.098, 0.855, p['name'], transform=ax.transAxes, fontsize=30,
            ha='left', va='center')

    order = ['data', 'blue', 'cyan', 'green', 'orange', 'mag', 'red']
    handles, labels = [], []
    for k in order:
        if k == 'data' or k in p:
            handles.append(Line2D([], [], color=col[k], lw=0.8, marker='|',
                                  markersize=11, markeredgewidth=0.8))
            labels.append(label[k])
    ax.legend(handles, labels, loc='upper left', bbox_to_anchor=(0.745, 0.945),
              frameon=False, fontsize=7.8, handlelength=2.5, handletextpad=0.5,
              labelspacing=1.22, borderpad=0, borderaxespad=0)

fig.savefig('out.png', dpi=100)
